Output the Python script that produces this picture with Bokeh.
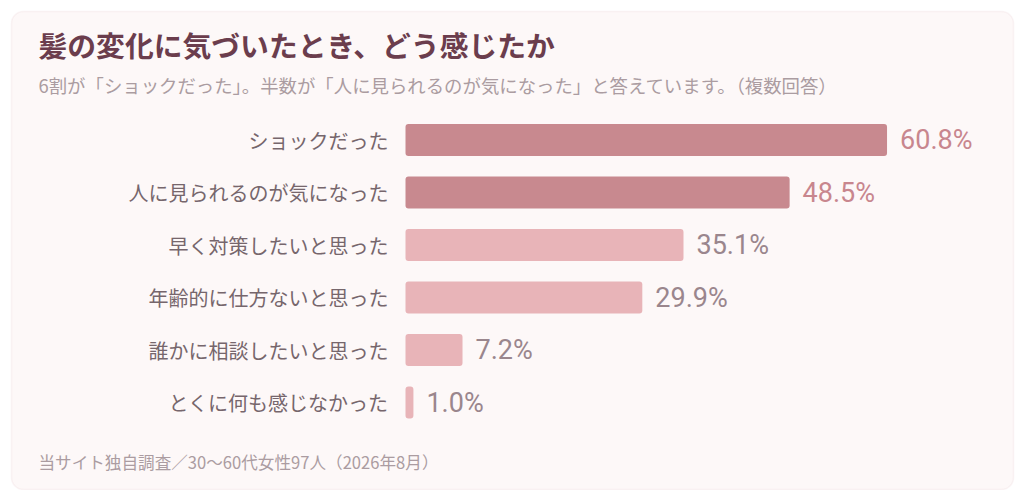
from bokeh.plotting import figure
from bokeh.models import Range1d, Label, BoxAnnotation, ColumnDataSource
from bokeh.core.properties import value
from bokeh.embed import file_html
from bokeh.resources import INLINE

title = "髪の変化に気づいたとき、どう感じたか"
subtitle = "6割が「ショックだった」。半数が「人に見られるのが気になった」と答えています。（複数回答）"
note = "当サイト独自調査／30〜60代女性97人（2026年8月）"

answers = ["ショックだった", "人に見られるのが気になった", "早く対策したいと思った",
           "年齢的に仕方ないと思った", "誰かに相談したいと思った", "とくに何も感じなかった"]
shares = [60.8, 48.5, 35.1, 29.9, 7.2, 1.0]

W, H = 1016, 490
SX = 7.92      # px per percent
SY = 52.5      # px per row
X0 = -405 / SX
Y0 = -139.5 / SY

bar_colors = ["#c8898f" if s > 40 else "#e8b4b8" for s in shares]
val_colors = ["#c8868e" if s > 40 else "#9a868d" for s in shares]

src = ColumnDataSource(dict(
    y=list(range(len(answers))),
    answer=answers,
    share=shares,
    label=[f"{s:.1f}%" for s in shares],
    bar_color=bar_colors,
    val_color=val_colors,
))

p = figure(width=W, height=H, output_backend="svg", toolbar_location=None,
           x_range=Range1d(X0, X0 + W / SX), y_range=Range1d(Y0 + H / SY, Y0),
           min_border=0, outline_line_color=None,
           background_fill_color="white", border_fill_color="white")
p.axis.visible = False
p.grid.visible = False

# card
p.add_layout(BoxAnnotation(left=X0 + 11 / SX, right=X0 + 1013 / SX,
                           top=Y0 + 11 / SY, bottom=Y0 + 489 / SY,
                           fill_color="#fdf8f8", fill_alpha=1,
                           line_color="#efdadf", line_width=1.5,
                           border_radius=12, level="underlay"))

p.hbar(y="y", left=0, right="share", height=0.61, source=src,
       fill_color="bar_color", line_color=None, border_radius=3)

p.text(x=0, y="y", text="answer", source=src, x_offset=-17,
       text_align="right", text_baseline="middle",
       text_font=value("Noto Sans CJK JP"), text_font_size="20px",
       text_color="#76666c")

p.text(x="share", y="y", text="label", source=src, x_offset=13,
       text_align="left", text_baseline="middle",
       text_font=value("Roboto"), text_font_size="27px",
       text_color="val_color")

p.add_layout(Label(x=38, y=H - 44, x_units="screen", y_units="screen", text=title,
                   text_font="Noto Sans CJK JP", text_font_style="bold",
                   text_font_size="28.8px", text_color="#6b3d4d",
                   text_baseline="middle"))
p.add_layout(Label(x=38, y=H - 84, x_units="screen", y_units="screen", text=subtitle,
                   text_font="Noto Sans CJK JP", text_font_size="18.4px",
                   text_color="#ab9ca1", text_baseline="middle"))
p.add_layout(Label(x=38, y=H - 461, x_units="screen", y_units="screen", text=note,
                   text_font="Noto Sans CJK JP", text_font_size="16.6px",
                   text_color="#ab9ca1", text_baseline="middle"))

open("out.html", "w").write(file_html(p, INLINE))
